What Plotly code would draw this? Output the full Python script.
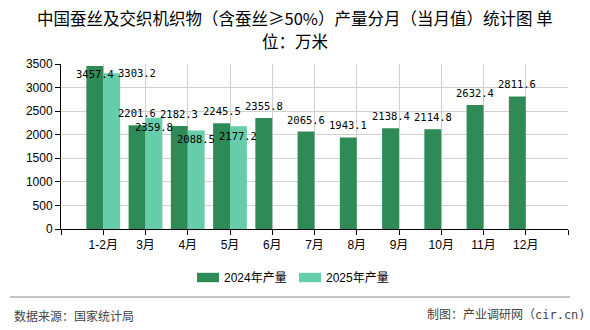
import plotly.graph_objects as go

# ---------------- data ----------------
categories = ["1-2月", "3月", "4月", "5月", "6月", "7月", "8月", "9月", "10月", "11月", "12月"]
prod_2024 = [3457.4, 2201.6, 2182.3, 2245.5, 2355.8, 2065.6, 1943.1, 2138.4, 2114.8, 2632.4, 2811.6]
prod_2025 = [3303.2, 2359.8, 2088.5, 2177.2, None, None, None, None, None, None, None]
series_names = ["2024年产量", "2025年产量"]
y_ticks = [0, 500, 1000, 1500, 2000, 2500, 3000, 3500]
title_lines = ["中国蚕丝及交织机织物（含蚕丝≥50%）产量分月（当月值）统计图 单", "位：万米"]

# ---------------- styling ----------------
colors = ["#2E8B57", "#66CDAA"]
W, H = 590, 330
L, R, T, B = 61, 22, 64, 101
PW, PH = W - L - R, H - T - B
label_dy_2024 = [-8, 12, 12, 12, 12, 12, 12, 12, 12, 12, 12]
label_dx_2025 = [25.5, 0, 0, 0]
label_dy_2025 = [0, -9, -8.5, -9.5]
title_y = [18, 41]
legend_x = [197, 299]      # swatch left edges (px)
legend_y = 277.5

CJK = "Noto Sans CJK SC"
LAB_FONT = dict(family="DejaVu Sans Mono, " + CJK, size=10.5, color="#000")


def px_x(p):
    return (p - L) / PW


def px_y(p):
    return (H - B - p) / PH


idx = list(range(len(categories)))

fig = go.Figure()
for name, vals, col in zip(series_names, [prod_2024, prod_2025], colors):
    fig.add_trace(go.Bar(x=idx, y=vals, name=name, marker=dict(color=col, line=dict(width=0)),
                         showlegend=False))

annotations = []
for i, v in enumerate(prod_2024):
    annotations.append(dict(x=i - 0.2, y=v, xref="x", yref="y", text=f"{v:.1f}", showarrow=False,
                            xanchor="center", yanchor="middle", yshift=label_dy_2024[i], font=LAB_FONT))
for i, v in enumerate(prod_2025):
    if v is None:
        continue
    annotations.append(dict(x=i + 0.2, y=v, xref="x", yref="y", text=f"{v:.1f}", showarrow=False,
                            xanchor="center", yanchor="middle", xshift=label_dx_2025[i],
                            yshift=label_dy_2025[i], font=LAB_FONT))

# title lines
for line, ty in zip(title_lines, title_y):
    annotations.append(dict(x=px_x(295), y=px_y(ty), xref="paper", yref="paper", text=line,
                            showarrow=False, xanchor="center", yanchor="middle",
                            font=dict(family=CJK, size=16.5, color="#000")))

shapes = []
# legend (swatch + label per series)
for name, col, lx in zip(series_names, colors, legend_x):
    shapes.append(dict(type="rect", xref="paper", yref="paper", x0=px_x(lx), x1=px_x(lx + 22),
                       y0=px_y(legend_y - 4.7), y1=px_y(legend_y + 4.7), fillcolor=col, line=dict(width=0)))
    annotations.append(dict(x=px_x(lx + 25), y=px_y(legend_y), xref="paper", yref="paper", text=name,
                            showarrow=False, xanchor="left", yanchor="middle",
                            font=dict(family="Liberation Sans, " + CJK, size=12, color="#000")))

# footer
annotations.append(dict(x=px_x(12), y=px_y(315), xref="paper", yref="paper", text="数据来源：国家统计局",
                        showarrow=False, xanchor="left", yanchor="middle",
                        font=dict(family=CJK, size=12, color="#444")))
annotations.append(dict(x=px_x(588), y=px_y(315), xref="paper", yref="paper", text="制图：产业调研网（cir.cn)",
                        showarrow=False, xanchor="right", yanchor="middle",
                        font=dict(family="DejaVu Sans Mono, " + CJK, size=12, color="#444")))
shapes.append(dict(type="line", xref="paper", yref="paper", x0=px_x(10), x1=px_x(570), y0=px_y(297),
                   y1=px_y(297), line=dict(color="#888", width=1)))

fig.update_layout(
    width=W, height=H, autosize=False,
    margin=dict(l=L, r=R, t=T, b=B, pad=0),
    paper_bgcolor="white", plot_bgcolor="white",
    barmode="group", bargap=0.2, bargroupgap=0,
    showlegend=False,
    font=dict(family="Liberation Sans, " + CJK, size=12, color="#000"),
    xaxis=dict(range=[-1, len(categories)], tickmode="array", tickvals=list(range(-1, len(categories) + 1)),
               ticktext=[""] + categories + [""], showgrid=True, gridcolor="#d0d0d0", gridwidth=1,
               showline=True, linecolor="#000", linewidth=1, ticks="outside", ticklen=5, tickcolor="#000",
               zeroline=False, fixedrange=True, tickfont=dict(family="Liberation Sans, " + CJK, size=12)),
    yaxis=dict(range=[0, 3500], tickmode="array", tickvals=y_ticks, showgrid=True, gridcolor="#d0d0d0",
               gridwidth=1, showline=True, linecolor="#000", linewidth=1, ticks="outside", ticklen=5,
               tickcolor="#000", zeroline=False, fixedrange=True,
               tickfont=dict(family="Liberation Sans, " + CJK, size=12)),
    annotations=annotations, shapes=shapes,
)

fig.write_html("out.html", config={"displayModeBar": False})
